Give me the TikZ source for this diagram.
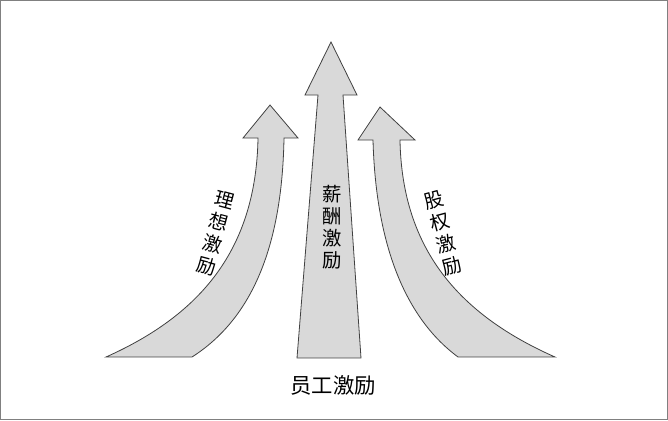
\documentclass[tikz,border=0pt]{standalone}
\usepackage{fontspec}
\newfontfamily\cjk{Noto Sans CJK SC}
\begin{document}
\begin{tikzpicture}[x=0.75pt,y=-0.75pt]
  \tikzset{
   arrowbody/.style={draw=black!75, fill=black!15, line width=.6pt, line join=miter},
   letter/.style={font=\cjk\fontsize{14.5}{14.5}\selectfont, inner sep=0pt},
  }
  \draw [black!50, line width=.8pt] (0.5,0.5) rectangle (667.5,419.5);
  \useasboundingbox (0,0) rectangle (668,420);
  % left arrow
  \draw [arrowbody] (106,357) .. controls (200,315) and (256,250) .. (258,138)
   -- (243,138) -- (270,105) -- (298,138) -- (284,138)
   .. controls (282,250) and (250,320) .. (192,357) -- cycle;
  % right arrow
  \draw [arrowbody] (555,357) .. controls (460,315) and (402,250) .. (400,140)
   -- (415,140) -- (380,107) -- (358,140) -- (373,140)
   .. controls (376,250) and (408,320) .. (458,357) -- cycle;
  % centre arrow
  \draw [arrowbody] (297,358) -- (318,95) -- (305,95) -- (331,42)
   -- (357,95) -- (343,95) -- (361,358) -- cycle;
  \foreach \ch [count=\i] in {理,想,激,励}
   \node [letter, rotate=-15] (l\i) at (231-6*\i,178+22*\i) {\ch};
  \foreach \ch [count=\i] in {薪,酬,激,励}
   \node [letter] (c\i) at (332,172+22*\i) {\ch};
  \foreach \ch [count=\i] in {股,权,激,励}
   \node [letter, rotate=15] (r\i) at (428+6*\i,178+22*\i) {\ch};
  \node [font=\cjk\fontsize{16}{16}\selectfont] (title) at (333,385) {员工激励};
\end{tikzpicture}
\end{document}
